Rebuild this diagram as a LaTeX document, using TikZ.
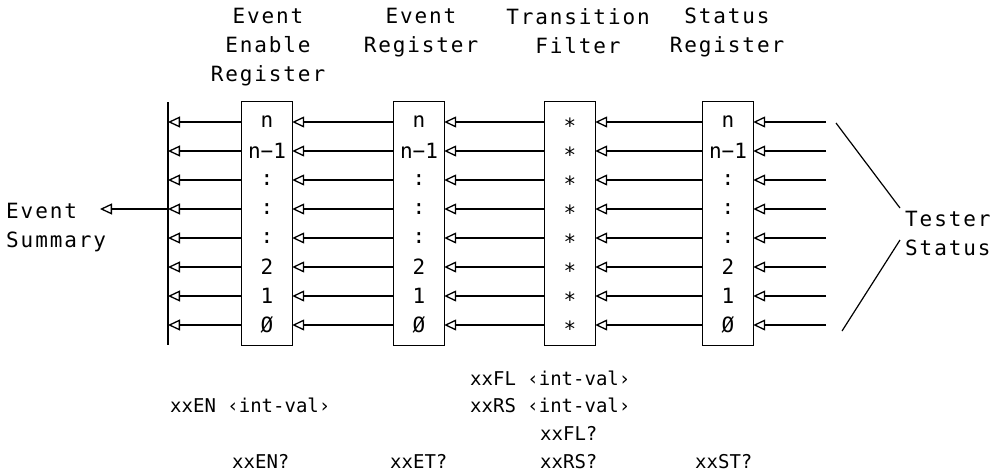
\documentclass[tikz,border=0pt]{standalone}
\usepackage{fontspec}
\newfontfamily\plotfont[LetterSpace=9]{DejaVu Sans Mono}
\newfontfamily\cmdfont{DejaVu Sans Mono}
\usetikzlibrary{arrows.meta,positioning,fit}

\begin{document}
\begin{tikzpicture}[x=1pt, y=-1pt,
    cell/.style={minimum width=50pt, minimum height=29pt, inner sep=0pt, font=\cmdfont\fontsize{21}{29}\selectfont},
    reg/.style={draw, line width=1.3pt, inner xsep=0pt, inner ysep=5.5pt},
    title/.style={align=center, inner sep=0pt, anchor=north, font=\plotfont\fontsize{21}{29}\selectfont},
    cmd/.style={anchor=base west, inner sep=0pt, font=\cmdfont\fontsize{19}{19}\selectfont},
    arr/.style={-{Triangle[open, length=12pt, width=11pt, line width=1.3pt]}, line width=1.2pt}
]
\useasboundingbox (0,0) rectangle (1004,475);

% register columns
\foreach \col/\cx in {eer/267, er/419, sr/728}
  \foreach \lab [count=\i from 0] in {n, n−1, :, :, :, 2, 1, Ø}
    \node[cell] (\col\i) at (\cx, 122+29*\i) {\lab};
\foreach \i in {0,...,7}
  \node[cell] (tf\i) at (570, 122+29*\i) {\raisebox{-0.56em}[0pt][0pt]{*}};

\node[reg, fit=(eer0)(eer7)] (eerbox) {};
\node[reg, fit=(er0)(er7)] (erbox) {};
\node[reg, fit=(tf0)(tf7)] (tfbox) {};
\node[reg, fit=(sr0)(sr7)] (srbox) {};

% titles
\node[title] (eertitle) at (268,8) {Event\\Enable\\Register};
\node[title] (ertitle) at (421,8) {Event\\Register};
\node[title] (tftitle) at (578,8) {Transition\\Filter\hspace{12pt}};
\node[title] (srtitle) at (727,8) {Status\\Register};

% summary bus
\coordinate (bustop) at (168,102);
\coordinate (busbot) at (168,345);
\draw[line width=1.2pt] (bustop) -- (busbot);

\foreach \i in {0,...,7} {
  \coordinate (in\i) at (826, 122+29*\i);
  \coordinate (bus\i) at (168, 122+29*\i);
  \draw[arr] (in\i) -- (sr\i.east);
  \draw[arr] (sr\i.west) -- (tf\i.east);
  \draw[arr] (tf\i.west) -- (er\i.east);
  \draw[arr] (er\i.west) -- (eer\i.east);
  \draw[arr] (eer\i.west) -- (bus\i);
}

\node[title, align=left, anchor=north west] (evsum) at (6,203) {Event\\Summary};
\coordinate (sumtip) at (100,209);
\draw[arr] (bus3) -- (sumtip);

\node[title, align=left, anchor=north west] (tester) at (905,211) {Tester\\Status};
\coordinate (ta) at (836,123);
\coordinate (tb) at (900,208);
\coordinate (tc) at (900,240);
\coordinate (td) at (842,331);
\draw[line width=1.2pt] (ta) -- (tb);
\draw[line width=1.2pt] (tc) -- (td);

% commands
\node[cmd] (fl) at (470,385) {xxFL ‹int-val›};
\node[cmd] (en) at (170,412) {xxEN ‹int-val›};
\node[cmd] (rs) at (470,412) {xxRS ‹int-val›};
\node[cmd] (flq) at (540,440) {xxFL?};
\node[cmd] (enq) at (232,468) {xxEN?};
\node[cmd] (etq) at (390,468) {xxET?};
\node[cmd] (rsq) at (540,468) {xxRS?};
\node[cmd] (stq) at (695,468) {xxST?};
\end{tikzpicture}
\end{document}
